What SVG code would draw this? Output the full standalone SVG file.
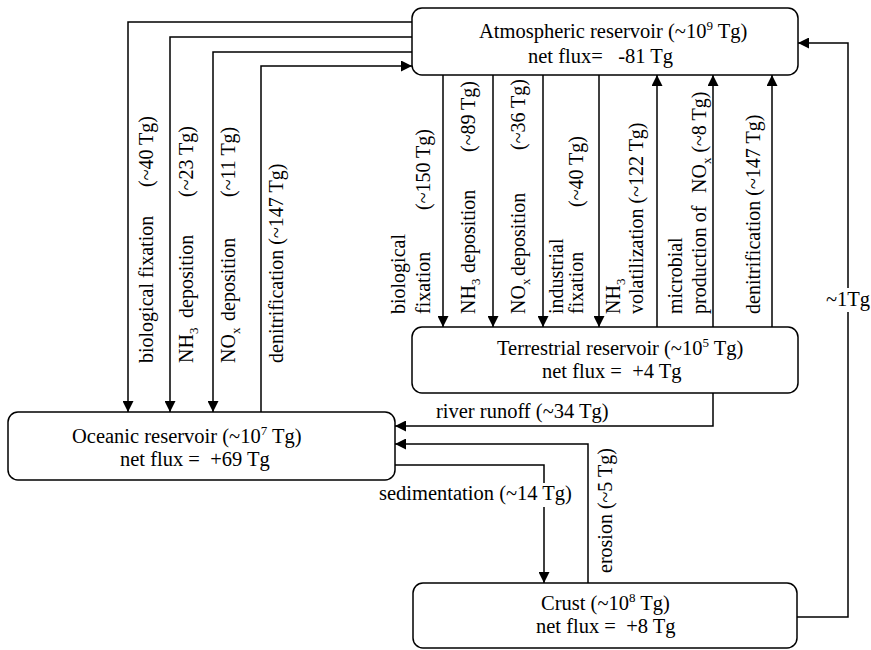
<svg xmlns="http://www.w3.org/2000/svg" width="871" height="650" viewBox="0 0 871 650">
<style>
.box{fill:#fff;stroke:#000;stroke-width:1.5}
.edge{fill:none;stroke:#000;stroke-width:1.5;marker-end:url(#ah)}
.plain{fill:none;stroke:#000;stroke-width:1.5}
text{font-family:"Liberation Serif","Times New Roman",serif;fill:#000}
.t{font-size:20.5px}
.r{font-size:20px}
.s{font-size:13px}
.bg{fill:#fff}
</style>
<defs>
<marker id="ah" viewBox="0 0 10 10" refX="10" refY="5" markerWidth="11" markerHeight="11" markerUnits="userSpaceOnUse" orient="auto">
<path d="M0,0 L10,5 L0,10 z" fill="#000"/>
</marker>
</defs>
<rect x="0" y="0" width="871" height="650" fill="#fff"/>

<g id="connectors">
<path class="edge" d="M412,22 H128 V412"/>
<path class="edge" d="M412,37 H170 V412"/>
<path class="edge" d="M412,52 H213 V412"/>
<path class="edge" d="M261,412 V66 H412"/>
<path class="edge" d="M443,75 V327"/>
<path class="edge" d="M493,75 V327"/>
<path class="edge" d="M543,75 V327"/>
<path class="edge" d="M599,75 V327"/>
<path class="edge" d="M657,327 V75"/>
<path class="edge" d="M713,327 V75"/>
<path class="edge" d="M772,327 V75"/>
<path class="edge" d="M713,393 V426 H395"/>
<path class="edge" d="M588,583 V444 H395"/>
<path class="edge" d="M395,465 H544 V583"/>
<path class="edge" d="M797,617 H848 V43 H798"/>
</g>

<g id="edge-labels">
<text class="r" transform="translate(153,363) rotate(-90)" xml:space="preserve">biological fixation<tspan x="176">(~40 Tg)</tspan></text>
<text class="r" transform="translate(193,363) rotate(-90)">NH<tspan class="s" dy="5">3</tspan><tspan x="45" dy="-5">deposition</tspan><tspan x="166">(~23 Tg)</tspan></text>
<text class="r" transform="translate(235,363) rotate(-90)">NO<tspan class="s" dy="5">x</tspan><tspan x="42" dy="-5">deposition</tspan><tspan x="166">(~11 Tg)</tspan></text>
<text class="r" transform="translate(283,363) rotate(-90)">denitrification (~147 Tg)</text>

<text class="r" transform="translate(405,314) rotate(-90)">biological</text>
<text class="r" transform="translate(430,314) rotate(-90)">fixation<tspan x="104">(~150 Tg)</tspan></text>
<text class="r" transform="translate(475,314) rotate(-90)">NH<tspan class="s" dy="5">3</tspan><tspan x="41" dy="-5">deposition</tspan><tspan x="162">(~89 Tg)</tspan></text>
<text class="r" transform="translate(525,314) rotate(-90)">NO<tspan class="s" dy="5">x</tspan><tspan x="38" dy="-5">deposition</tspan><tspan x="164">(~36 Tg)</tspan></text>
<text class="r" transform="translate(563,314) rotate(-90)">industrial</text>
<text class="r" transform="translate(583,314) rotate(-90)">fixation<tspan x="107">(~40 Tg)</tspan></text>
<text class="r" transform="translate(620,314) rotate(-90)">NH<tspan class="s" dy="5">3</tspan></text>
<text class="r" transform="translate(643,314) rotate(-90)">volatilization (~122 Tg)</text>
<text class="r" transform="translate(682,314) rotate(-90)">microbial</text>
<text class="r" transform="translate(706,314) rotate(-90)">production of<tspan x="121">NO</tspan><tspan class="s" dy="5">x</tspan><tspan dy="-5" xml:space="preserve"> (~8 Tg)</tspan></text>
<text class="r" transform="translate(760,314) rotate(-90)">denitrification (~147 Tg)</text>

<text class="t" x="436" y="418">river runoff (~34 Tg)</text>
<text class="r" transform="translate(612,573) rotate(-90)">erosion (~5 Tg)</text>
<rect class="bg" x="377" y="483" width="198" height="24"/>
<text class="t" x="379" y="500">sedimentation (~14 Tg)</text>
<rect class="bg" x="826" y="288" width="45" height="24"/>
<text class="t" x="848" y="306" text-anchor="middle">~1Tg</text>
</g>

<g id="atmospheric">
<rect class="box" x="412" y="8" width="386" height="67" rx="10"/>
<text class="t" x="479" y="38">Atmospheric reservoir (~10<tspan class="s" dy="-8">9</tspan><tspan dy="8"> Tg)</tspan></text>
<text class="t" x="528" y="63" xml:space="preserve">net flux=   -81 Tg</text>
</g>

<g id="terrestrial">
<rect class="box" x="412" y="327" width="386" height="66" rx="10"/>
<text class="t" x="497" y="355">Terrestrial reservoir (~10<tspan class="s" dy="-8">5</tspan><tspan dy="8"> Tg)</tspan></text>
<text class="t" x="542" y="378" xml:space="preserve">net flux =  +4 Tg</text>
</g>

<g id="oceanic">
<rect class="box" x="8" y="412" width="387" height="68" rx="10"/>
<text class="t" x="72" y="443">Oceanic reservoir (~10<tspan class="s" dy="-8">7</tspan><tspan dy="8"> Tg)</tspan></text>
<text class="t" x="120" y="466" xml:space="preserve">net flux =  +69 Tg</text>
</g>

<g id="crust">
<rect class="box" x="413" y="583" width="384" height="65" rx="10"/>
<text class="t" x="541" y="610">Crust (~10<tspan class="s" dy="-8">8</tspan><tspan dy="8"> Tg)</tspan></text>
<text class="t" x="536" y="633" xml:space="preserve">net flux =  +8 Tg</text>
</g>
</svg>
